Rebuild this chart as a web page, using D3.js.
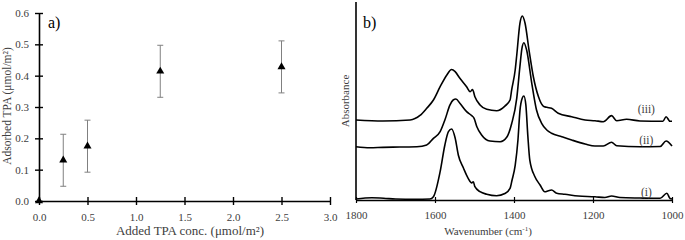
<!DOCTYPE html>
<html><head><meta charset="utf-8">
<script src="https://cdn.jsdelivr.net/npm/d3@7"></script>
<style>
body{margin:0;background:#fff;}
svg{display:block;font-family:"Liberation Serif","Times New Roman",serif;}
</style></head><body>
<svg id="c" width="685" height="240"></svg>
<script>
// Panel a data
const addedConc = [0, 0.25, 0.5, 1.25, 2.5];
const adsorbed = [0, 0.13, 0.175, 0.414, 0.428];
const adsorbedErr = [0, 0.083, 0.083, 0.083, 0.083];
const aXTicks = [0, 0.5, 1.0, 1.5, 2.0, 2.5, 3.0];
const aYTicks = [0, 0.1, 0.2, 0.3, 0.4, 0.5, 0.6];

// Panel b data (wavenumber, absorbance a.u.)
const wavenumbers_i = [1800,1760,1730,1700,1650,1613,1604,1587,1575,1566,1558,1549,1541,1528,1516,1507,1503,1499,1486,1469,1444,1423,1410,1405,1397,1390,1385,1379,1375,1370,1365,1360,1347,1334,1322,1313,1305,1292,1271,1237,1195,1170,1153,1132,1081,1030,1013,1005,1000];
const spectrum_i = [0.010,0.022,0.018,0.010,0.007,0.010,0.033,0.286,0.556,0.690,0.717,0.626,0.455,0.323,0.219,0.172,0.185,0.134,0.084,0.058,0.043,0.065,0.118,0.200,0.350,0.606,0.900,1.030,1.050,0.960,0.650,0.404,0.235,0.152,0.084,0.094,0.101,0.068,0.058,0.040,0.033,0.025,0.040,0.025,0.020,0.017,0.068,0.015,0.010];
const wavenumbers_ii = [1800,1765,1732,1689,1646,1621,1604,1587,1575,1562,1554,1547,1537,1520,1507,1501,1494,1482,1461,1435,1418,1406,1393,1385,1380,1375,1368,1355,1343,1330,1317,1305,1279,1254,1220,1195,1174,1153,1140,1081,1030,1015,1000];
const spectrum_ii = [0.538,0.528,0.532,0.535,0.538,0.556,0.623,0.690,0.808,0.960,1.010,1.020,0.977,0.892,0.852,0.825,0.740,0.657,0.596,0.589,0.636,0.770,1.030,1.350,1.530,1.589,1.515,1.179,0.909,0.775,0.707,0.674,0.639,0.606,0.566,0.545,0.545,0.583,0.548,0.538,0.540,0.596,0.545];
const wavenumbers_iii = [1800,1732,1663,1638,1621,1604,1587,1570,1558,1549,1537,1520,1511,1505,1499,1486,1469,1444,1423,1410,1406,1397,1393,1385,1379,1372,1362,1351,1338,1326,1317,1305,1288,1254,1220,1195,1174,1153,1140,1115,1081,1023,1015,1005,1000];
const spectrum_iii = [0.808,0.798,0.808,0.854,0.926,1.010,1.144,1.263,1.318,1.296,1.229,1.144,1.094,1.116,1.043,0.960,0.916,0.902,0.949,1.010,1.110,1.313,1.465,1.785,1.859,1.785,1.515,1.245,1.043,0.949,0.936,0.926,0.876,0.841,0.808,0.801,0.791,0.852,0.801,0.815,0.798,0.795,0.841,0.795,0.795];
const spectrumLabels = ["(i)", "(ii)", "(iii)"];
const bXTicks = [1800, 1600, 1400, 1200, 1000];

const svg = d3.select("#c");
const txtCol = "#404040";

// ---------- Panel a ----------
const ax = d3.scaleLinear().domain([0, 3]).range([39, 330]);
const ay = d3.scaleLinear().domain([0, 0.6]).range([201, 13]);
const ga = svg.append("g");

const axA = ga.append("g").attr("transform", "translate(0,201)")
  .call(d3.axisBottom(ax).tickValues(aXTicks).tickFormat(d3.format(".1f")).tickSizeInner(4).tickSizeOuter(0).tickPadding(8));
const ayA = ga.append("g").attr("transform", "translate(39,0)")
  .call(d3.axisLeft(ay).tickValues(aYTicks).tickFormat(d3.format(".1f")).tickSizeInner(4).tickSizeOuter(0).tickPadding(6));
[axA, ayA].forEach(g => {
  g.select(".domain").attr("stroke", "#000").attr("stroke-width", 1.6);
  g.selectAll(".tick line").attr("stroke", "#000").attr("stroke-width", 1.4);
  g.selectAll("text").attr("font-size", 11).attr("fill", txtCol).attr("font-family", "Liberation Serif");
});
axA.selectAll(".tick line").attr("y1", -4).attr("y2", 4);
ayA.selectAll(".tick line").attr("x1", -4).attr("x2", 4);

// error bars
const pts = addedConc.map((c, i) => ({c, v: adsorbed[i], e: adsorbedErr[i]}));
const eb = ga.append("g").attr("stroke", "#808080").attr("stroke-width", 1);
pts.filter(d => d.e > 0).forEach(d => {
  eb.append("line").attr("x1", ax(d.c)).attr("x2", ax(d.c)).attr("y1", ay(d.v - d.e)).attr("y2", ay(d.v + d.e));
  eb.append("line").attr("x1", ax(d.c) - 3).attr("x2", ax(d.c) + 3).attr("y1", ay(d.v - d.e)).attr("y2", ay(d.v - d.e));
  eb.append("line").attr("x1", ax(d.c) - 3).attr("x2", ax(d.c) + 3).attr("y1", ay(d.v + d.e)).attr("y2", ay(d.v + d.e));
});
const tri = d3.symbol().type(d3.symbolTriangle).size(28);
ga.selectAll("path.pt").data(pts).join("path").attr("class", "pt")
  .attr("d", tri).attr("fill", "#000")
  .attr("transform", d => `translate(${ax(d.c)},${ay(d.v)})`);

ga.append("text").attr("x", 48).attr("y", 28).attr("font-size", 16).attr("fill", "#000").text("a)");
ga.append("text").attr("transform", "translate(11,106) rotate(-90)").attr("text-anchor", "middle")
  .attr("font-size", 11.5).attr("fill", txtCol).text("Adsorbed TPA (μmol/m²)");
ga.append("text").attr("x", 190).attr("y", 235).attr("text-anchor", "middle")
  .attr("font-size", 13).attr("fill", txtCol).text("Added TPA conc. (μmol/m²)");

// ---------- Panel b ----------
const bx = d3.scaleLinear().domain([1800, 1000]).range([356, 672]);
const by = d3.scaleLinear().domain([0, 2]).range([200, 2]);
const gb = svg.append("g");
const bxA = gb.append("g").attr("transform", "translate(0,200)")
  .call(d3.axisBottom(bx).tickValues(bXTicks).tickFormat(d3.format("d")).tickSizeInner(3).tickSizeOuter(0).tickPadding(8));
bxA.select(".domain").attr("stroke", "#000").attr("stroke-width", 1.6);
bxA.selectAll(".tick line").attr("stroke", "#000").attr("stroke-width", 1.2).attr("y1", -3).attr("y2", 3);
bxA.selectAll("text").attr("font-size", 11).attr("fill", txtCol).attr("font-family", "Liberation Serif");
gb.append("line").attr("x1", bx(1800)).attr("x2", bx(1800)).attr("y1", by(2)).attr("y2", by(0))
  .attr("stroke", "#000").attr("stroke-width", 1.6);

const line = d3.line().x(d => bx(d[0])).y(d => by(d[1])).curve(d3.curveMonotoneX);
const series = [
  wavenumbers_i.map((w, i) => [w, spectrum_i[i]]),
  wavenumbers_ii.map((w, i) => [w, spectrum_ii[i]]),
  wavenumbers_iii.map((w, i) => [w, spectrum_iii[i]])
];
series.forEach(s => {
  gb.append("path").attr("d", line(s)).attr("fill", "none").attr("stroke", "#000").attr("stroke-width", 1.6);
});
const labelPos = [[1065, 0.045], [1065, 0.566], [1065, 0.874]];
spectrumLabels.forEach((t, i) => {
  gb.append("text").attr("x", bx(labelPos[i][0])).attr("y", by(labelPos[i][1])).attr("text-anchor", "middle")
    .attr("font-size", 11.5).attr("fill", txtCol).text(t);
});
gb.append("text").attr("x", 363).attr("y", 28).attr("font-size", 16).attr("fill", "#000").text("b)");
gb.append("text").attr("transform", "translate(349,101) rotate(-90)").attr("text-anchor", "middle")
  .attr("font-size", 11).attr("fill", txtCol).text("Absorbance");
gb.append("text").attr("x", 488).attr("y", 235).attr("text-anchor", "middle")
  .attr("font-size", 11).attr("fill", txtCol).html("Wavenumber (cm<tspan baseline-shift='super' font-size='7'>-1</tspan>)");
</script>
</body></html>
